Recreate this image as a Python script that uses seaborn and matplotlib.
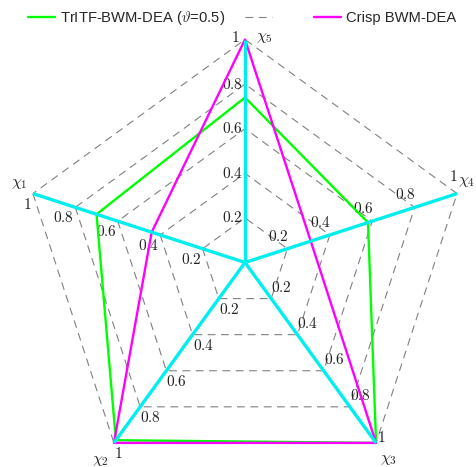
import numpy as np
import pandas as pd
import matplotlib
matplotlib.use("Agg")
import matplotlib.pyplot as plt
from matplotlib.lines import Line2D
import seaborn as sns

# Criteria (radar spokes) and their directions
criteria = ["\\chi_1", "\\chi_2", "\\chi_3", "\\chi_4", "\\chi_5"]
angles_deg = [162, 234, 306, 18, 90]

# Efficiency scores per criterion
tritf_values = [0.70, 0.985, 1.0, 0.58, 0.74]
crisp_values = [0.44, 1.0, 1.0, 0.31, 1.0]

series_names = ["TrITF-BWM-DEA ($\\vartheta$=0.5)", "Crisp BWM-DEA"]
series_colors = ["#00ff00", "#ff00ff"]

grid_levels = [0.2, 0.4, 0.6, 0.8, 1.0]
tick_labels = ["0.2", "0.4", "0.6", "0.8", "1"]

sns.set_style("white")
plt.rcParams["font.family"] = ["Liberation Sans", "DejaVu Sans"]
plt.rcParams["mathtext.fontset"] = "cm"

W, H = 477, 467
fig = plt.figure(figsize=(W / 100, H / 100), dpi=100)
ax = fig.add_axes([0, 0, 1, 1])
cx, cy, R = 245.0, H - 262.5, 223.0
ax.set_xlim(-cx / R, (W - cx) / R)
ax.set_ylim(-cy / R, (H - cy) / R)
ax.set_aspect("equal")
ax.axis("off")

theta = np.deg2rad(angles_deg)
ux, uy = np.cos(theta), np.sin(theta)


def closed(vals):
    v = np.asarray(vals, dtype=float)
    x = np.append(v * ux, v[0] * ux[0])
    y = np.append(v * uy, v[0] * uy[0])
    return x, y


# pentagon grid
grid_color = "#808080"
for lev in grid_levels:
    gx, gy = closed([lev] * len(criteria))
    ax.plot(gx, gy, color=grid_color, lw=0.8, dashes=(7, 5), zorder=1)

# data polygons
frames = []
for name, vals in zip(series_names, [tritf_values, crisp_values]):
    x, y = closed(vals)
    frames.append(pd.DataFrame({"x": x, "y": y, "series": name}))
df = pd.concat(frames, ignore_index=True)
sns.lineplot(data=df, x="x", y="y", hue="series", sort=False, estimator=None,
             palette=dict(zip(series_names, series_colors)), lw=1.7,
             legend=False, ax=ax, zorder=3)

# spokes
for i in range(len(criteria)):
    ax.plot([0, ux[i]], [0, uy[i]], color="#00eeee", lw=2.4, zorder=4,
            solid_capstyle="butt")

# tick labels along each spoke (pixel offsets)
k = 0.72  # px -> pt at 100 dpi
tick_style = [
    dict(ha="right", va="top", off=(-1, -3)),
    dict(ha="left", va="top", off=(0, -3)),
    dict(ha="left", va="bottom", off=(0, 4)),
    dict(ha="center", va="bottom", off=(-9, 5)),
    dict(ha="right", va="center", off=(-2, 0)),
]
outer_off = {2: (1, -2), 3: (-4, 10), 4: (-5, 2)}
for i in range(len(criteria)):
    st = tick_style[i]
    for lev, lab in zip(grid_levels, tick_labels):
        off = st["off"]
        if lev == 1.0 and i in outer_off:
            off = outer_off[i]
        ax.annotate(f"${lab}$", (lev * ux[i], lev * uy[i]),
                    xytext=(off[0] * k, off[1] * k), textcoords="offset points",
                    ha=st["ha"], va=st["va"], fontsize=11, color="#222222",
                    zorder=2)

# criterion names
name_off = [(-14, 10), (-13, -18), (12, -17), (10, 12), (19, 2)]
for i, c in enumerate(criteria):
    ax.annotate(f"${c}$", (ux[i], uy[i]),
                xytext=(name_off[i][0] * k, name_off[i][1] * k),
                textcoords="offset points", ha="center", va="center",
                fontsize=11.5, color="#222222")

handles = [
    Line2D([], [], color=series_colors[0], lw=1.7),
    Line2D([], [], color=grid_color, lw=0.8, dashes=(7, 5)),
    Line2D([], [], color=series_colors[1], lw=1.7),
]
labels = [series_names[0], "    ", series_names[1]]
fig.legend(handles, labels, ncol=3, loc="center left",
           bbox_to_anchor=(28 / W, 1 - 18 / H), frameon=False, fontsize=10.6,
           handlelength=1.84, handletextpad=0.34, columnspacing=1.35,
           borderpad=0, borderaxespad=0)

fig.savefig("out.png", dpi=100)
